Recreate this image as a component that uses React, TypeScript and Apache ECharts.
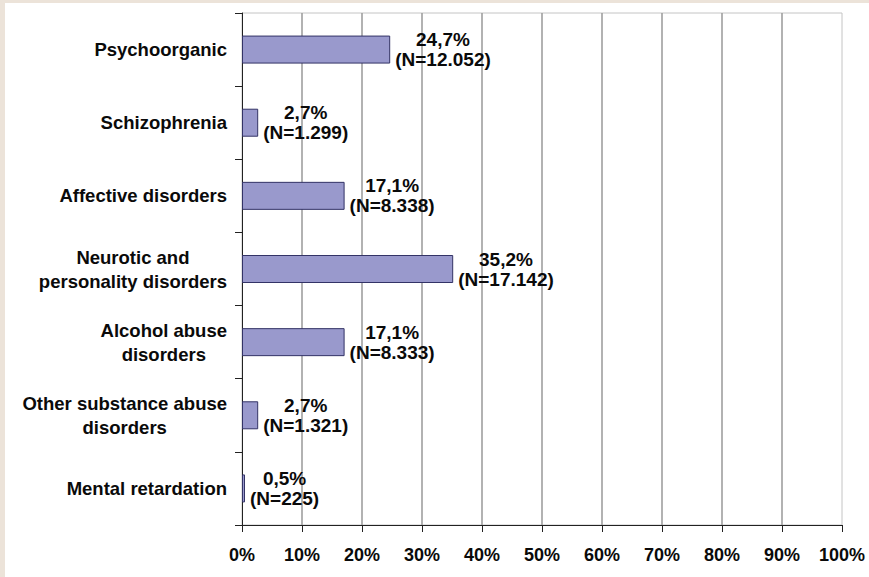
import React, { useEffect, useRef } from "react";
import * as echarts from "echarts";

const categories = [
  "Psychoorganic",
  "Schizophrenia",
  "Affective disorders",
  "Neurotic and\npersonality disorders",
  "Alcohol abuse\ndisorders",
  "Other substance abuse\ndisorders",
  "Mental retardation",
];
const percentages = [24.7, 2.7, 17.1, 35.2, 17.1, 2.7, 0.5];
const counts = [12052, 1299, 8338, 17142, 8333, 1321, 225];
const xTicks = { min: 0, max: 100, interval: 10 };

const FONT = "'Liberation Sans', Arial, Helvetica, sans-serif";

function fmtPct(v: number) {
  return v.toFixed(1).replace(".", ",") + "%";
}
function fmtN(n: number) {
  return String(n).replace(/\B(?=(\d{3})+(?!\d))/g, ".");
}

export default function App() {
  const ref = useRef<HTMLDivElement>(null);
  useEffect(() => {
    if (!ref.current) return;
    const chart = echarts.init(ref.current, undefined, { renderer: "svg" });
    const textStyle = {
      fontFamily: FONT,
      fontWeight: "bold" as const,
      color: "#0a0a0a",
    };
    chart.setOption({
      animation: false,
      backgroundColor: "#ffffff",
      textStyle: { fontFamily: FONT },
      grid: {
        left: 237,
        right: 27,
        top: 10,
        bottom: 52,
        show: true,
        borderColor: "#c4c4c4",
        borderWidth: 1,
        backgroundColor: "#ffffff",
      },
      xAxis: {
        type: "value",
        min: xTicks.min,
        max: xTicks.max,
        interval: xTicks.interval,
        axisLine: { show: true, lineStyle: { color: "#222", width: 1 } },
        axisTick: { show: true, length: 7, lineStyle: { color: "#222" } },
        axisLabel: {
          ...textStyle,
          fontSize: 18,
          margin: 21,
          formatter: "{value}%",
        },
        splitLine: {
          show: true,
          showMinLine: false,
          showMaxLine: false,
          lineStyle: { color: "#999999", width: 1.5 },
        },
      },
      yAxis: {
        type: "category",
        inverse: true,
        data: categories,
        axisLine: { show: true, lineStyle: { color: "#222", width: 1 } },
        axisTick: { show: true, length: 7, alignWithLabel: false, lineStyle: { color: "#222" } },
        splitLine: { show: false },
        axisLabel: {
          margin: 15,
          formatter: (v: string) =>
            v
              .split("\n")
              .map((l) => `{c|${l}}`)
              .join("\n"),
          rich: {
            c: { ...textStyle, fontSize: 18.5, align: "center", lineHeight: 24 },
          },
        },
      },
      series: [
        {
          type: "bar",
          data: percentages,
          barWidth: 28,
          itemStyle: {
            color: "#9999cc",
            borderColor: "#333366",
            borderWidth: 1,
          },
          label: {
            show: true,
            position: "right",
            distance: 5,
            formatter: (p: any) =>
              `{a|${fmtPct(percentages[p.dataIndex])}}\n{a|(N=${fmtN(counts[p.dataIndex])})}`,
            rich: {
              a: { ...textStyle, fontSize: 19, align: "center", lineHeight: 20 },
            },
          },
        },
      ],
    });
    return () => chart.dispose();
  }, []);
  return (
    <div
      style={{
        position: "fixed",
        left: 0,
        top: 0,
        width: 869,
        height: 577,
        background: "#ece3d9",
      }}
    >
      <div
        ref={ref}
        style={{ position: "absolute", left: 5, top: 3, width: 864, height: 574 }}
      />
    </div>
  );
}
